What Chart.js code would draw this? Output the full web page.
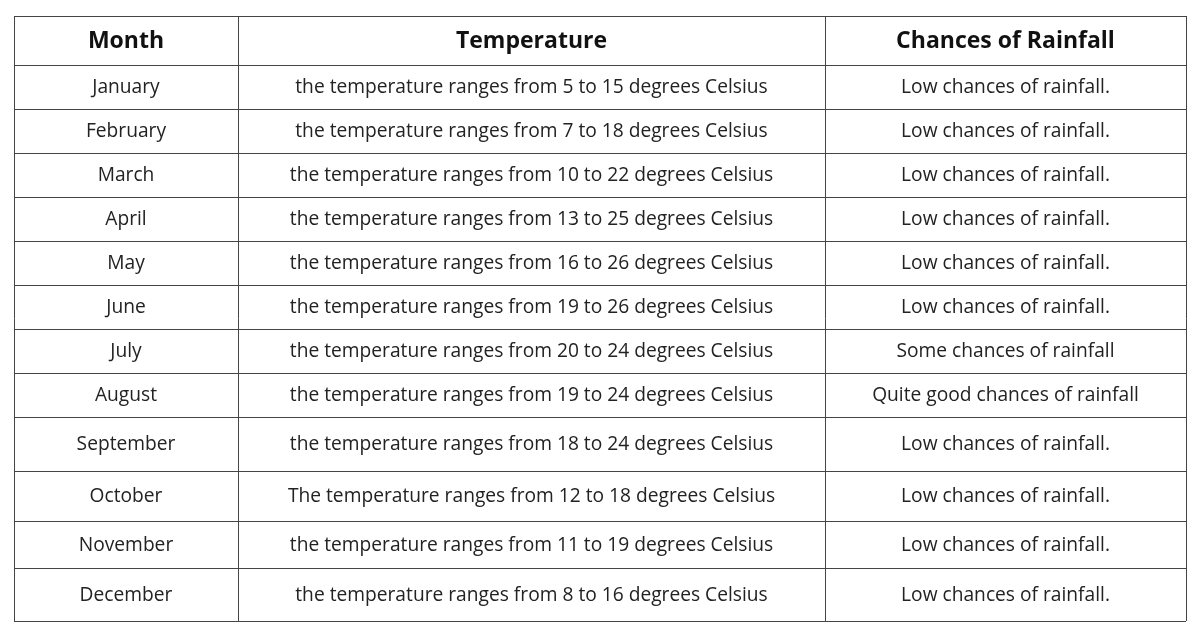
<!DOCTYPE html>
<html>
<head>
<meta charset="UTF-8">
<title>Month temperature table</title>
<style>
	html, body {margin: 0; padding: 0; background: #fff;}
	#wrap {width: 1200px; height: 630px;}
</style>
</head>
<body>
<div id="wrap"><canvas id="tableChart" width="1200" height="630"></canvas></div>
<script src="https://cdn.jsdelivr.net/npm/chart.js@4"></script>
<script>
	// table data
	const headers = ['Month', 'Temperature', 'Chances of Rainfall'];
	const months = ['January','February','March','April','May','June','July','August','September','October','November','December'];
	const lowTemps = [5, 7, 10, 13, 16, 19, 20, 19, 18, 12, 11, 8];
	const highTemps = [15, 18, 22, 25, 26, 26, 24, 24, 24, 18, 19, 16];
	const rainfall = ['Low chances of rainfall.','Low chances of rainfall.','Low chances of rainfall.','Low chances of rainfall.',
		'Low chances of rainfall.','Low chances of rainfall.','Some chances of rainfall','Quite good chances of rainfall',
		'Low chances of rainfall.','Low chances of rainfall.','Low chances of rainfall.','Low chances of rainfall.'];

	// grid lines in scale units (x: 0..1172, y: 0..605)
	const colEdges = [0, 224, 811, 1172];
	const rowEdges = [0, 49, 93, 137, 181, 225, 269, 313, 357, 401, 455, 505, 552, 605];

	const tablePlugin = {
		id: 'tablePlugin',
		afterDraw(chart) {
			const ctx = chart.ctx, x = chart.scales.x, y = chart.scales.y;
			ctx.save();
			ctx.strokeStyle = '#444';
			ctx.lineWidth = 1;
			rowEdges.forEach(r => {
				const py = Math.round(y.getPixelForValue(r)) + 0.5;
				ctx.beginPath(); ctx.moveTo(x.getPixelForValue(0), py); ctx.lineTo(x.getPixelForValue(1172), py); ctx.stroke();
			});
			colEdges.forEach(c => {
				const px = Math.round(x.getPixelForValue(c)) + 0.5;
				ctx.beginPath(); ctx.moveTo(px, y.getPixelForValue(0)); ctx.lineTo(px, y.getPixelForValue(605)); ctx.stroke();
			});
			ctx.textAlign = 'center';
			ctx.textBaseline = 'middle';
			ctx.fillStyle = '#111';
			const cx = i => (x.getPixelForValue(colEdges[i]) + x.getPixelForValue(colEdges[i + 1])) / 2;
			const cy = j => (y.getPixelForValue(rowEdges[j]) + y.getPixelForValue(rowEdges[j + 1])) / 2 + 1;
			ctx.font = 'bold 23px "Open Sans", sans-serif';
			headers.forEach((h, i) => ctx.fillText(h, cx(i), cy(0)));
			ctx.font = '19.2px "Open Sans", sans-serif';
			ctx.fillStyle = '#222';
			months.forEach((m, j) => {
				const word = m === 'October' ? 'The' : 'the';
				ctx.fillText(m, cx(0), cy(j + 1));
				ctx.fillText(word + ' temperature ranges from ' + lowTemps[j] + ' to ' + highTemps[j] + ' degrees Celsius', cx(1), cy(j + 1));
				ctx.fillText(rainfall[j], cx(2), cy(j + 1));
			});
			ctx.restore();
		}
	};

	new Chart(document.getElementById('tableChart'), {
		type: 'scatter',
		data: {datasets: [{data: []}]},
		options: {
			responsive: false,
			animation: false,
			layout: {padding: {left: 14, right: 14, top: 16, bottom: 9}},
			plugins: {legend: {display: false}, tooltip: {enabled: false}},
			scales: {
				x: {type: 'linear', min: 0, max: 1172, display: false},
				y: {type: 'linear', min: 0, max: 605, reverse: true, display: false}
			}
		},
		plugins: [tablePlugin]
	});
</script>
</body>
</html>
